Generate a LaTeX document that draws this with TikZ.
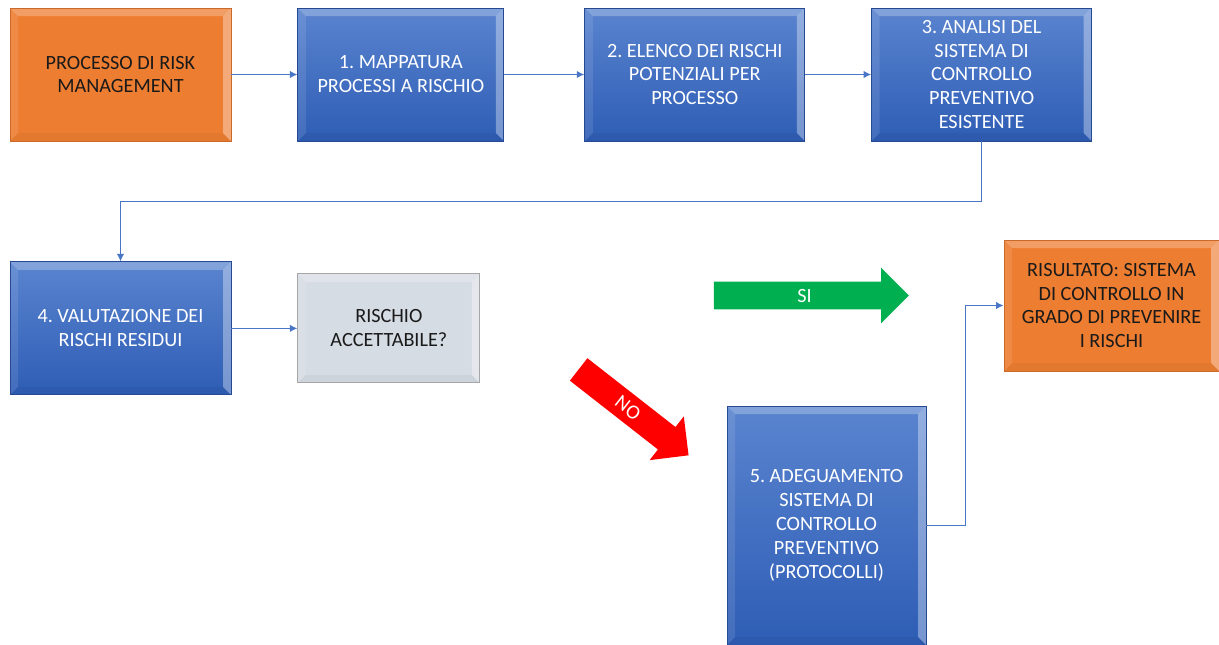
\documentclass[tikz,border=0pt]{standalone}
\usepackage{fontspec}
\setmainfont{Carlito}
\frenchspacing
\usetikzlibrary{
  arrows.meta,
  positioning,
  shapes.arrows
}
\definecolor{riskInk}{HTML}{1A1A1A}
\definecolor{riskOrange}{HTML}{ED7D31}
\definecolor{riskBlueTop}{HTML}{5A84CF}
\definecolor{riskBlueBot}{HTML}{2E5DB5}
\definecolor{riskGrey}{HTML}{D6DCE4}
\definecolor{riskLine}{HTML}{4A76C6}
\definecolor{riskGreen}{HTML}{00B050}
\definecolor{riskRed}{HTML}{FF0000}
\newcommand{\boxbevel}{%
  \path (path picture bounding box.south west) coordinate (bvSW)
        (path picture bounding box.north east) coordinate (bvNE)
        (path picture bounding box.north west) coordinate (bvNW)
        (path picture bounding box.south east) coordinate (bvSE);
  \fill[white, opacity=.25] (bvNW) -- (bvNE) -- ([shift={(-.16,-.16)}]bvNE)
    -- ([shift={(.16,-.16)}]bvNW) -- cycle;
  \fill[white, opacity=.10] (bvNW) -- ([shift={(.16,-.16)}]bvNW)
    -- ([shift={(.16,.16)}]bvSW) -- (bvSW) -- cycle;
  \fill[white, opacity=.35] (bvNE) -- ([shift={(-.16,-.16)}]bvNE)
    -- ([shift={(-.16,.16)}]bvSE) -- (bvSE) -- cycle;
  \fill[black, opacity=.04] (bvSW) -- ([shift={(.16,.16)}]bvSW)
    -- ([shift={(-.16,.16)}]bvSE) -- (bvSE) -- cycle;
}
\tikzset{
  every node/.style={font=\fontsize{11.5}{13.6}\selectfont, text=riskInk},
  box/.style={
    rectangle,
    align=center,
    inner sep=4pt,
    minimum height=2.66cm,
    line width=0.5pt,
    path picture={\boxbevel}
  },
  orangebox/.style={
    box,
    fill=riskOrange,
    draw=riskOrange!85!black
  },
  bluebox/.style={
    box,
    top color=riskBlueTop,
    bottom color=riskBlueBot,
    draw=riskBlueBot!80!black,
    text=white
  },
  greybox/.style={
    box,
    fill=riskGrey,
    draw=black!35
  },
  link/.style={
    -{Latex[length=1.5mm,width=1.5mm]},
    line width=0.8pt,
    draw=riskLine
  },
  answer/.style={
    single arrow,
    text=white,
    text height=7.4pt,
    text depth=0pt,
    inner xsep=2pt
  }
}

\begin{document}
\begin{tikzpicture}
  \useasboundingbox (0,0) rectangle (24.38,-12.9);

  % first row
  \node[orangebox, minimum width=4.42cm] (processo) at (2.41,-1.49)
    {PROCESSO DI RISK\\MANAGEMENT};
  \node[bluebox, minimum width=4.12cm, right=1.32cm of processo] (mappatura)
    {1. MAPPATURA\\PROCESSI A RISCHIO};
  \node[bluebox, minimum width=4.40cm, right=1.60cm of mappatura] (elenco)
    {2. ELENCO DEI RISCHI\\POTENZIALI PER\\PROCESSO};
  \node[bluebox, minimum width=4.40cm, right=1.32cm of elenco] (analisi)
    {3. ANALISI DEL\\SISTEMA DI\\CONTROLLO\\PREVENTIVO\\ESISTENTE};

  \draw[link] (processo) -- (mappatura);
  \draw[link] (mappatura) -- (elenco);
  \draw[link] (elenco) -- (analisi);

  % second row
  \node[bluebox, minimum width=4.42cm, below=2.40cm of processo] (valutazione)
    {4. VALUTAZIONE DEI\\RISCHI RESIDUI};
  \node[greybox, minimum width=3.64cm, minimum height=2.18cm,
    right=1.32cm of valutazione] (accettabile)
    {RISCHIO\\ACCETTABILE?};

  \draw[link] (analisi.south) -- ++(0,-1.2) -| (valutazione.north);
  \draw[link] (valutazione) -- (accettabile);

  % answers
  \node[answer, fill=riskGreen, inner ysep=4pt, minimum height=3.9cm,
    single arrow head extend=0.28cm] (si) at (16.09,-5.91) {SI};
  \node[answer, fill=riskRed, inner ysep=4.2pt, minimum height=2.79cm,
    single arrow head extend=0.27cm, rotate=-38] (no) at (12.56,-8.16) {NO};

  \node[bluebox, minimum width=3.98cm, minimum height=4.78cm] (adeguamento)
    at (16.53,-10.51)
    {5. ADEGUAMENTO\\SISTEMA DI\\CONTROLLO\\PREVENTIVO\\(PROTOCOLLI)};
  \node[orangebox, minimum width=4.30cm, minimum height=2.62cm] (risultato)
    at (22.23,-6.11)
    {RISULTATO: SISTEMA\\DI CONTROLLO IN\\GRADO DI PREVENIRE\\I RISCHI};

  \draw[link] (adeguamento.east) -- ++(0.78,0) |- (risultato.west);
\end{tikzpicture}
\end{document}
